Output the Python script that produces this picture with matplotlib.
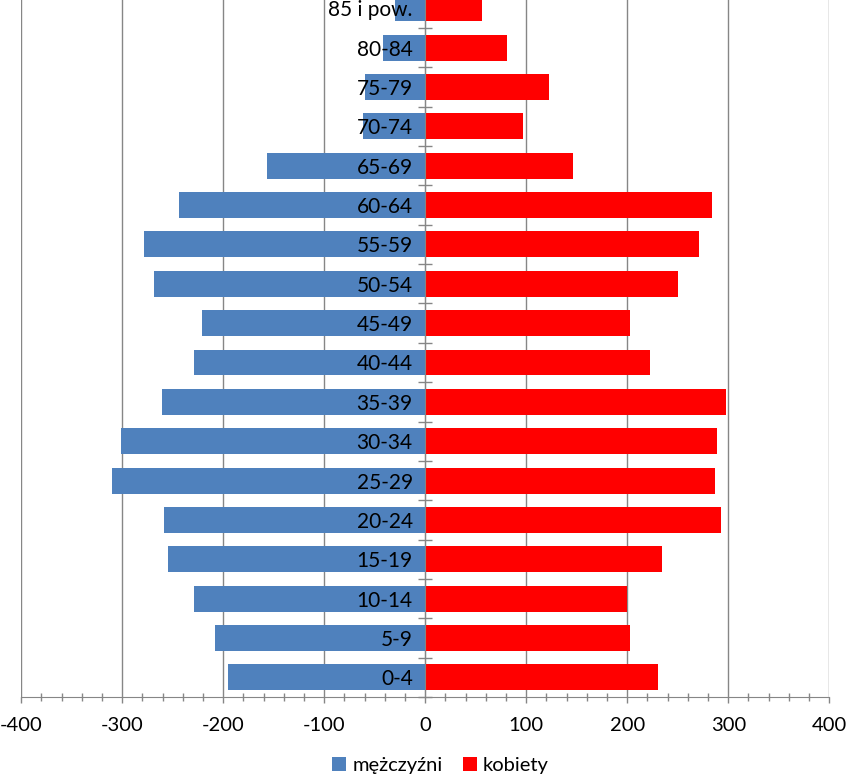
import matplotlib.pyplot as plt
from matplotlib.ticker import MultipleLocator
import numpy as np

plt.rcParams['font.family'] = ['Lato', 'DejaVu Sans']
plt.rcParams['axes.unicode_minus'] = False

# age groups, bottom to top
groups = ['0-4', '5-9', '10-14', '15-19', '20-24', '25-29', '30-34', '35-39',
          '40-44', '45-49', '50-54', '55-59', '60-64', '65-69', '70-74',
          '75-79', '80-84', '85 i pow.']
men = [-195, -208, -229, -255, -259, -310, -301, -261,
       -229, -221, -269, -278, -244, -157, -62, -60, -42, -30]
women = [230, 203, 200, 234, 293, 287, 289, 298,
         222, 203, 250, 271, 284, 146, 97, 122, 81, 56]

grey = '#868686'

fig = plt.figure(figsize=(8.47, 7.77), dpi=100)
ax = fig.add_axes([0.0251, 0.103, 0.954, 0.9116])

y = np.arange(len(groups))
ax.barh(y, men, height=0.66, color='#4F81BD', label='mężczyźni', zorder=1)
ax.barh(y, women, height=0.66, color='#FF0000', label='kobiety', zorder=1)

ax.set_xlim(-400, 400)
ax.set_ylim(-0.5, 17.5)

# vertical gridlines behind the bars
for t in range(-400, 401, 100):
    ax.axvline(t, color=grey, lw=1.0, zorder=0.5)

ax.xaxis.set_major_locator(MultipleLocator(100))
ax.xaxis.set_minor_locator(MultipleLocator(20))
ax.tick_params(axis='x', which='major', direction='out', length=4.5, width=1,
               color=grey, labelsize=14.5, pad=10)
ax.tick_params(axis='x', which='minor', direction='inout', length=6, width=1,
               color=grey)

ax.spines['left'].set_position(('data', 0))
ax.spines['left'].set_color(grey)
ax.spines['bottom'].set_color(grey)
ax.spines['top'].set_visible(False)
ax.spines['right'].set_visible(False)

ax.set_yticks(y)
ax.set_yticklabels(groups)
ax.set_yticks(np.arange(-0.5, len(groups), 1.0), minor=True)
ax.tick_params(axis='y', which='major', length=0, labelsize=15, pad=9)
ax.tick_params(axis='y', which='minor', direction='inout', length=9.5,
               width=1, color=grey)
ax.set_axisbelow(False)

fig.legend(loc='lower center', bbox_to_anchor=(0.52, -0.02), ncol=2,
           frameon=False, fontsize=14.5, handlelength=0.7, handleheight=0.7,
           handletextpad=0.3, columnspacing=1.0)

fig.savefig('out.png', dpi=100)
